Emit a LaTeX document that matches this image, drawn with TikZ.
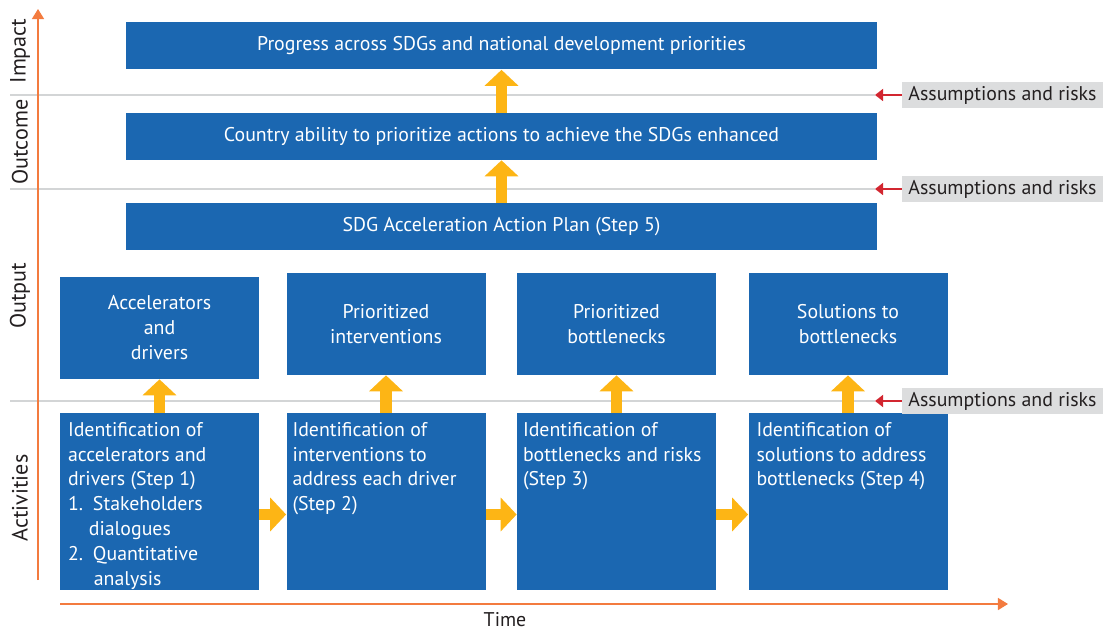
\documentclass[tikz,border=0pt]{standalone}
\usepackage{fontspec}
\setmainfont{PT Sans}
\usetikzlibrary{arrows.meta}

\definecolor{boxblue}{HTML}{1B67B1}
\definecolor{arrowyellow}{HTML}{FDB515}
\definecolor{axisorange}{HTML}{F37B3F}
\definecolor{riskred}{HTML}{D22630}
\definecolor{labelgray}{HTML}{DCDDDE}
\definecolor{linegray}{HTML}{D3D5D6}
\definecolor{darktext}{HTML}{231F20}

\newcommand{\pxu}{0.02cm}

\tikzset{
  bluebox/.style={fill=boxblue, text=white, inner sep=0pt, align=center},
  topbox/.style={bluebox, minimum width=751*\pxu, minimum height=47*\pxu},
  outbox/.style={bluebox, minimum width=199*\pxu, minimum height=102*\pxu},
  actbox/.style={bluebox, minimum width=199*\pxu, minimum height=177*\pxu},
  acttext/.style={text=white, inner sep=0pt, align=left, anchor=north west},
  yarrow/.style={draw=arrowyellow, line width=6.3pt,
    -{Triangle[width=18.8pt, length=9.1pt]}},
  riskarrow/.style={draw=riskred, line width=1.7pt,
    -{Triangle[width=6.8pt, length=4.6pt]}},
  risklabel/.style={fill=labelgray, text=darktext, inner sep=0pt,
    minimum width=201*\pxu, minimum height=26*\pxu},
  gridline/.style={draw=linegray, line width=1.1pt},
  axisline/.style={draw=axisorange, line width=0.9pt,
    -{Triangle[width=6.8pt, length=5.7pt]}},
  axislabel/.style={text=darktext, inner sep=0pt},
  levellabel/.style={axislabel, rotate=90, font=\fontsize{12.6}{15}\selectfont}
}

\begin{document}
\begin{tikzpicture}[x=0.02cm, y=-0.02cm, font=\fontsize{11.3}{14.2}\selectfont]
  \useasboundingbox (0,0) rectangle (1106,631);

  % level separators
  \coordinate (sepA0) at (10,95);
  \coordinate (sepA1) at (875,95);
  \coordinate (sepB0) at (10,189);
  \coordinate (sepB1) at (875,189);
  \coordinate (sepC0) at (10,401);
  \coordinate (sepC1) at (875,401);
  \draw[gridline] (sepA0) -- (sepA1);
  \draw[gridline] (sepB0) -- (sepB1);
  \draw[gridline] (sepC0) -- (sepC1);

  % axes
  \coordinate (vaxis0) at (38,580);
  \coordinate (vaxis1) at (38,9);
  \coordinate (haxis0) at (60,604);
  \coordinate (haxis1) at (1008,604);
  \draw[axisline] (vaxis0) -- (vaxis1);
  \draw[axisline] (haxis0) -- (haxis1);

  \node[levellabel] (lblimpact) at (20,51) {Impact};
  \node[levellabel] (lbloutcome) at (20,142) {Outcome};
  \node[levellabel] (lbloutput) at (20,296) {Output};
  \node[levellabel] (lblactiv) at (20,498) {Activities};
  \node[axislabel] (lbltime) at (505,620) {Time};

  % impact, outcome, plan
  \node[topbox] (impact) at (501.5,46) {Progress across SDGs and national development priorities};
  \node[topbox] (outcome) at (501.5,136.5) {Country ability to prioritize actions to achieve the SDGs enhanced};
  \node[topbox] (plan) at (501.5,226.5) {SDG Acceleration Action Plan (Step 5)};

  % outputs
  \node[outbox] (accel) at (159.5,328) {Accelerators\\and\\drivers};
  \node[outbox] (prioint) at (386,324) {Prioritized\\interventions};
  \node[outbox] (priobot) at (616.5,324) {Prioritized\\bottlenecks};
  \node[outbox] (solut) at (848,324) {Solutions to\\bottlenecks};

  % activities
  \node[actbox] (step1) at (159.5,501.5) {};
  \node[actbox] (step2) at (386,501.5) {};
  \node[actbox] (step3) at (616.5,501.5) {};
  \node[actbox] (step4) at (848,501.5) {};

  \node[acttext] (step1txt) at ([shift={(8,9)}]step1.north west)
    {Identification of\\accelerators and\\drivers (Step 1)\\
     1.\enspace Stakeholders\\\hspace*{1.05em}dialogues\\
     2.\enspace Quantitative\\\hspace*{1.3em}analysis};
  \node[acttext] (step2txt) at ([shift={(6,9)}]step2.north west)
    {Identification of\\interventions to\\address each driver\\(Step 2)};
  \node[acttext] (step3txt) at ([shift={(6,9)}]step3.north west)
    {Identification of\\bottlenecks and risks\\(Step 3)};
  \node[acttext] (step4txt) at ([shift={(8,9)}]step4.north west)
    {Identification of\\solutions to address\\bottlenecks (Step 4)};

  % yellow arrows
  \draw[yarrow] (step1.north) -- (accel.south);
  \draw[yarrow] (step2.north) -- (prioint.south);
  \draw[yarrow] (step3.north) -- (priobot.south);
  \draw[yarrow] (step4.north) -- (solut.south);
  \draw[yarrow] ([yshift=-7.4pt]step1.east) -- ([yshift=-7.4pt]step2.west);
  \draw[yarrow] ([yshift=-7.4pt]step2.east) -- ([yshift=-7.4pt]step3.west);
  \draw[yarrow] ([yshift=-7.4pt]step3.east) -- ([yshift=-7.4pt]step4.west);
  \draw[yarrow] (plan.north) -- (outcome.south);
  \draw[yarrow] (outcome.north) -- (impact.south);

  % assumptions and risks
  \node[risklabel] (riskA) at (1002.5,95) {Assumptions and risks};
  \node[risklabel] (riskB) at (1002.5,189) {Assumptions and risks};
  \node[risklabel] (riskC) at (1002.5,401) {Assumptions and risks};
  \draw[riskarrow] (riskA.west) -- (sepA1);
  \draw[riskarrow] (riskB.west) -- (sepB1);
  \draw[riskarrow] (riskC.west) -- (sepC1);

\end{tikzpicture}
\end{document}
